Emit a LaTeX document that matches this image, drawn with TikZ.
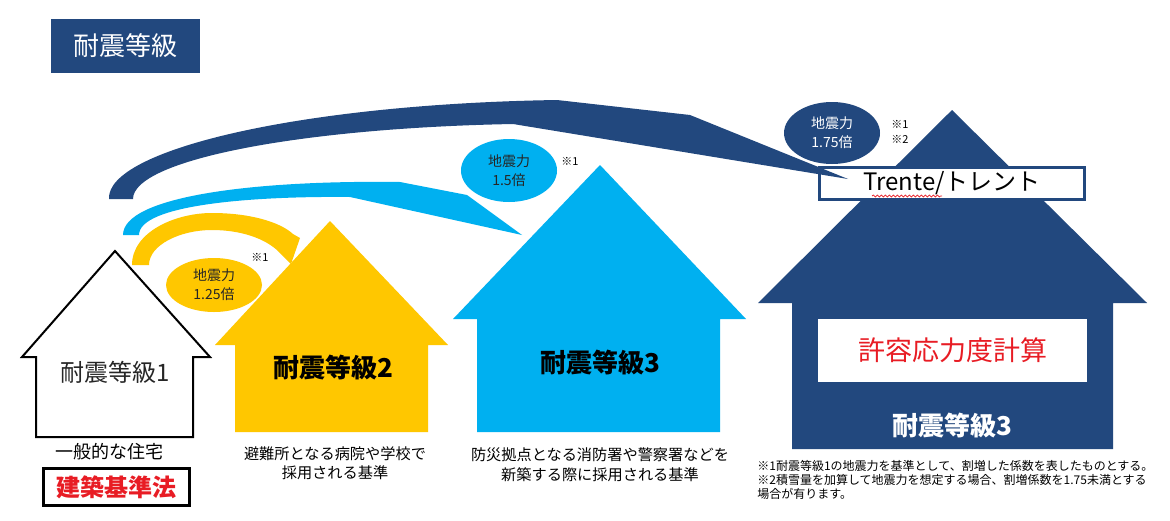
\documentclass[tikz,border=0pt]{standalone}
\usepackage{fontspec}
\setmainfont{Noto Sans CJK JP}
\usetikzlibrary{shapes.geometric,decorations.pathmorphing}
\definecolor{navy}{RGB}{34,72,126}
\definecolor{cyanc}{RGB}{0,176,240}
\definecolor{yel}{RGB}{255,199,0}
\definecolor{redt}{RGB}{232,28,36}
\definecolor{darkt}{RGB}{38,38,38}
\newcommand\fsz[2]{\fontsize{#1}{#2}\selectfont}
\begin{document}
\begin{tikzpicture}[x=0.5pt,y=-0.5pt,
  txt/.style={inner sep=0pt, align=center},
  bubble/.style={ellipse, inner sep=0pt, minimum width=48pt, align=center, font=\fsz{7pt}{9.5pt}},
  footnote/.style={inner sep=0pt, anchor=west, font=\fsz{6pt}{7pt}},
  refmark/.style={inner sep=0pt, font=\fsz{5.5pt}{6.5pt}},
  bigtxt/.style={txt, font=\bfseries\fsz{13pt}{15pt}},
  captxt/.style={txt}
]
\useasboundingbox (0,0) rectangle (1170,520);
\fill[white] (0,0) rectangle (1170,520);

% title
\node[fill=navy, minimum width=74.5pt, minimum height=27pt, inner sep=0pt, text=white, font=\fsz{13pt}{15pt}] (title) at (125.5,46) {耐震等級};

% houses
\draw[line width=1pt, fill=white] (115,251) -- (210,357) -- (193,357) -- (193,437) -- (36,437) -- (36,357) -- (22,357) -- cycle;
\fill[yel] (330,221) -- (448,345) -- (428,345) -- (428,432) -- (235,432) -- (235,345) -- (215,345) -- cycle;
\fill[cyanc] (600,165) -- (746,319) -- (720,319) -- (720,432) -- (477,432) -- (477,319) -- (453,319) -- cycle;
\fill[navy] (952,110) -- (1147,303) -- (1113,303) -- (1113,449) -- (792,449) -- (792,303) -- (758,303) -- cycle;

\node[fill=white, minimum width=134.5pt, minimum height=31.5pt, inner sep=0pt, text=redt, font=\fsz{13.5pt}{15pt}] (calc) at (952.5,350.5) {許容応力度計算};

% texts
\node[txt, text=darkt, font=\fsz{12pt}{14pt}] (g1) at (115,372) {耐震等級1};
\node[txt, font=\fsz{9pt}{11pt}] (c1) at (109,452) {一般的な住宅};
\node[draw=black, line width=1.5pt, minimum width=73pt, minimum height=18.5pt, inner sep=0pt, text=redt, font=\bfseries\fsz{12pt}{14pt}] (law) at (116.5,487) {建築基準法};

\node[bigtxt] (g2) at (333,368) {耐震等級2};
\node[captxt, font=\fsz{7.6pt}{9.25pt}] (c2) at (335,463) {避難所となる病院や学校で\\採用される基準};

\node[bigtxt] (g3) at (600,363) {耐震等級3};
\node[captxt, font=\fsz{7.6pt}{10pt}] (c3) at (600,465) {防災拠点となる消防署や警察署などを\\新築する際に採用される基準};

\node[bigtxt, text=white] (g4) at (952,426) {耐震等級3};

% footnotes
\node[footnote] (n1) at (757,466) {※1耐震等級1の地震力を基準として、割増した係数を表したものとする。};
\node[footnote] (n2) at (757,480) {※2積雪量を加算して地震力を想定する場合、割増係数を1.75未満とする};
\node[footnote] (n3) at (757,494) {場合が有ります。};

% Trente box
\node[draw=navy, fill=white, line width=1.3pt, minimum width=132.7pt, minimum height=16.2pt, inner sep=0pt, font=\fsz{12pt}{14pt}] (trente) at (952,183.5) {Trente/トレント};
\draw[redt, line width=0.35pt, decorate, decoration={snake, amplitude=0.5pt, segment length=2pt}] (872,196) -- (942,196);

% arrows
\fill[navy] (109,199) .. controls (106,150) and (300,104) .. (557,100) -- (690,115) -- (848,179) -- (513,124)
  .. controls (300,128) and (133,160) .. (133,199) -- cycle;
\fill[cyanc] (123,235) .. controls (123,197) and (250,180) .. (400,182) -- (467,195) -- (522,235) -- (350,197)
  .. controls (250,196) and (139,205) .. (139,235) -- cycle;
\fill[yel] (132,265) .. controls (132,232) and (175,213) .. (212,213) .. controls (250,213) and (280,222) .. (293,234)
  -- (300,238) -- (291,264) -- (279,252)
  .. controls (265,238) and (240,230) .. (212,230) .. controls (180,230) and (149,245) .. (149,265) -- cycle;

% bubbles
\node[bubble, fill=yel, minimum height=27pt, text=darkt] (b1) at (214,285) {地震力\\1.25倍};
\node[bubble, fill=cyanc, minimum height=31.5pt, text=darkt] (b2) at (509,170.5) {地震力\\1.5倍};
\node[bubble, fill=navy, minimum height=31pt, text=white] (b3) at (832,133) {地震力\\1.75倍};

% marks
\node[refmark] (m1) at (260,257) {※1};
\node[refmark] (m2) at (570,161) {※1};
\node[refmark] (m3) at (900,124) {※1};
\node[refmark] (m4) at (900,139) {※2};
\end{tikzpicture}
\end{document}
